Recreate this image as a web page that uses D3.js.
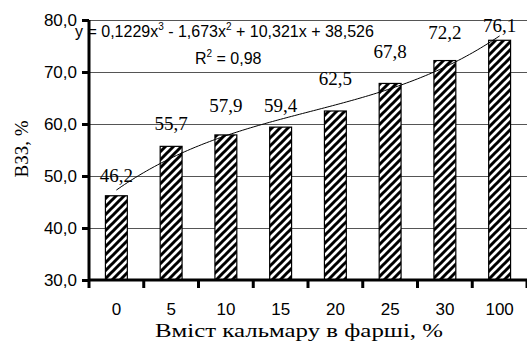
<!DOCTYPE html>
<html lang="en">
<head>
<meta charset="UTF-8">
<meta name="viewport" content="width=device-width, initial-scale=1.0">
<script src="https://d3js.org/d3.v7.min.js"></script>
<style>
  body { margin: 0; background: #fff; }
  svg { display: block; }
</style>
</head>
<body>
<svg id="chart" width="527" height="342"></svg>
<script>
// data
const categories = ["0", "5", "10", "15", "20", "25", "30", "100"];
const values = [46.2, 55.7, 57.9, 59.4, 62.5, 67.8, 72.2, 76.1];
const valueLabels = ["46,2", "55,7", "57,9", "59,4", "62,5", "67,8", "72,2", "76,1"];
const yTicks = [30, 40, 50, 60, 70, 80];
// cubic trend printed on the chart, x = category number 1..8
const trendCoef = [38.526, 10.321, -1.673, 0.1229];
// labels were moved by hand in the original, lift above bar top in px
const labelLift = [14, 16, 23, 15, 26, 25, 22, 8];

const SANS = "Liberation Sans, Arial, Arimo, sans-serif";
const SERIF = "Liberation Serif, Times New Roman, Tinos, serif";

const svg = d3.select("#chart");
const plotL = 89, plotR = 527, plotT = 20, plotB = 280;

const x = d3.scaleBand().domain(categories).range([plotL, plotR]).padding(0);
const y = d3.scaleLinear().domain([30, 80]).range([plotB, plotT]);
const barW = x.bandwidth() * 0.4;

// hatch pattern
const pat = svg.append("defs").append("pattern")
    .attr("id", "hatch")
    .attr("patternUnits", "userSpaceOnUse")
    .attr("width", 8).attr("height", 8);
pat.append("rect").attr("width", 8).attr("height", 8).attr("fill", "#fff");
pat.append("path")
    .attr("d", "M-2,2 L2,-2 M0,8 L8,0 M6,10 L10,6")
    .attr("stroke", "#000").attr("stroke-width", 3);

// gridlines
svg.append("g").selectAll("line")
    .data(yTicks.slice(1))
    .join("line")
    .attr("x1", plotL).attr("x2", plotR)
    .attr("y1", d => Math.round(y(d)) + 0.5).attr("y2", d => Math.round(y(d)) + 0.5)
    .attr("stroke", "#555").attr("stroke-width", 1);

// bars
svg.append("g").selectAll("rect")
    .data(values)
    .join("rect")
    .attr("x", (d, i) => x(categories[i]) + (x.bandwidth() - barW) / 2)
    .attr("y", d => y(d))
    .attr("width", barW)
    .attr("height", d => plotB - y(d))
    .attr("fill", "url(#hatch)")
    .attr("stroke", "#000").attr("stroke-width", 1.2);

// trend line
const trend = t => trendCoef[0] + trendCoef[1] * t + trendCoef[2] * t * t + trendCoef[3] * t * t * t;
const pos = t => x(categories[0]) + x.bandwidth() / 2 + (t - 1) * x.bandwidth();
const pts = d3.range(1, 8.001, 0.05).map(t => [pos(t), y(trend(t))]);
svg.append("path")
    .attr("d", d3.line()(pts))
    .attr("fill", "none").attr("stroke", "#000").attr("stroke-width", 1);

// axes
const yAxis = svg.append("g")
    .attr("transform", `translate(${plotL},0)`)
    .call(d3.axisLeft(y).tickValues(yTicks).tickSize(7).tickPadding(5)
        .tickFormat(d => d3.format(".1f")(d).replace(".", ",")));
yAxis.attr("font-family", SANS).attr("font-size", 17);
yAxis.select(".domain").attr("stroke-width", 3).attr("d", `M0,${plotT}V${plotB + 1}`);
yAxis.selectAll(".tick line").attr("stroke-width", 3);
yAxis.selectAll("text").attr("fill", "#000");

const xAxis = svg.append("g")
    .attr("transform", `translate(0,${plotB})`)
    .call(d3.axisBottom(x).tickSize(0).tickPadding(23));
xAxis.attr("font-family", SANS).attr("font-size", 17);
xAxis.select(".domain").attr("stroke-width", 3).attr("d", `M${plotL},0H${plotR}`);
xAxis.selectAll("text").attr("fill", "#000");
// category boundary ticks
xAxis.append("g").selectAll("line")
    .data(categories.concat(["end"]))
    .join("line")
    .attr("x1", (d, i) => plotL + i * x.bandwidth())
    .attr("x2", (d, i) => plotL + i * x.bandwidth())
    .attr("y1", 0).attr("y2", 8)
    .attr("stroke", "#000").attr("stroke-width", 3);

// value labels
svg.append("g")
    .style("font-family", SERIF).style("font-size", "19px")
    .selectAll("text")
    .data(values)
    .join("text")
    .attr("x", (d, i) => x(categories[i]) + x.bandwidth() / 2)
    .attr("y", (d, i) => y(d) - labelLift[i])
    .attr("text-anchor", "middle")
    .text((d, i) => valueLabels[i]);

// equation
const eq = svg.append("text")
    .attr("x", 75).attr("y", 37)
    .attr("font-family", SANS).attr("font-size", 16);
eq.append("tspan").text("y = 0,1229x");
eq.append("tspan").attr("dy", -7).attr("font-size", 10).text("3");
eq.append("tspan").attr("dy", 7).text(" - 1,673x");
eq.append("tspan").attr("dy", -7).attr("font-size", 10).text("2");
eq.append("tspan").attr("dy", 7).text(" + 10,321x + 38,526");

const r2 = svg.append("text")
    .attr("x", 195).attr("y", 64)
    .attr("font-family", SANS).attr("font-size", 16);
r2.append("tspan").text("R");
r2.append("tspan").attr("dy", -7).attr("font-size", 10).text("2");
r2.append("tspan").attr("dy", 7).text(" = 0,98");

// axis titles
svg.append("text")
    .attr("transform", "translate(28,149) rotate(-90)")
    .attr("text-anchor", "middle")
    .style("font-family", SERIF).style("font-size", "19px")
    .text("ВЗЗ, %");

svg.append("text")
    .attr("x", 155).attr("y", 337)
    .attr("textLength", 288).attr("lengthAdjust", "spacingAndGlyphs")
    .style("font-family", SERIF).style("font-size", "19px")
    .text("Вміст кальмару в фарші, %");
</script>
</body>
</html>
